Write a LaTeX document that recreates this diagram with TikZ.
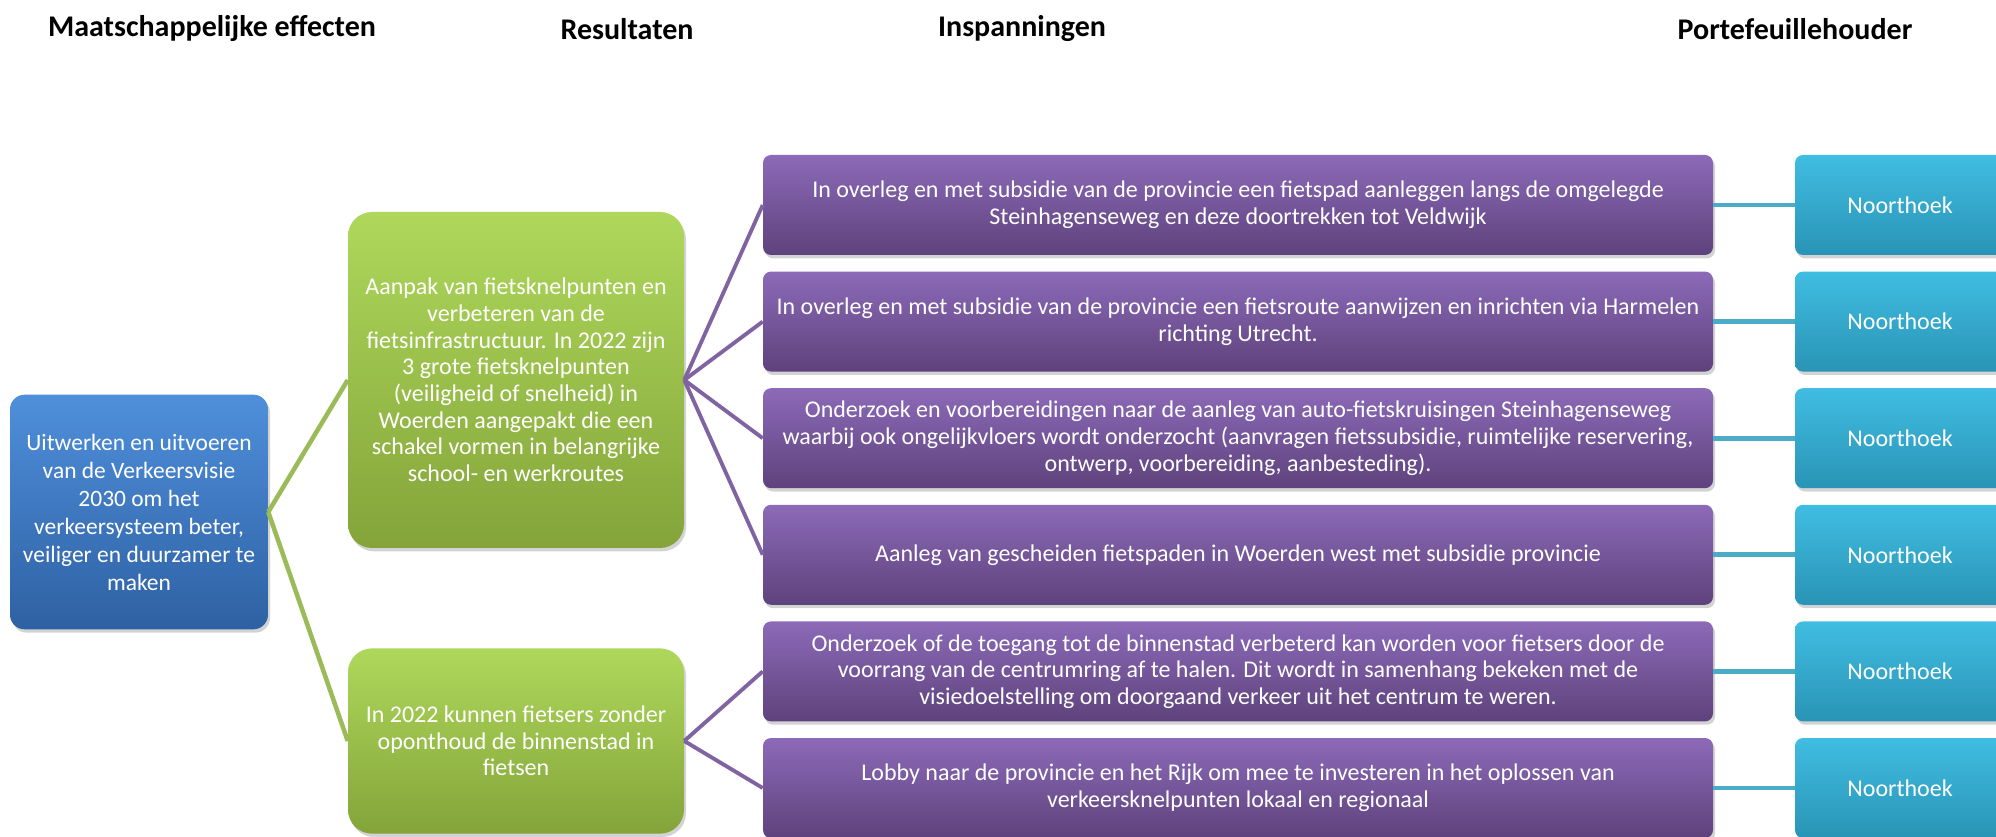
\documentclass[tikz,border=0pt]{standalone}
\usepackage{fontspec}
\setmainfont{Carlito}
\usetikzlibrary{shadows}
\definecolor{bluetop}{HTML}{4F8FDB}
\definecolor{bluebot}{HTML}{2E61A3}
\definecolor{greentop}{HTML}{AED85B}
\definecolor{greenbot}{HTML}{84A43A}
\definecolor{purtop}{HTML}{8C6AB8}
\definecolor{purbot}{HTML}{5E427C}
\definecolor{cyantop}{HTML}{40BDE2}
\definecolor{cyanbot}{HTML}{2994B5}
\definecolor{glink}{HTML}{9BBB59}
\definecolor{plink}{HTML}{8064A2}
\definecolor{clink}{HTML}{4BACC6}
\tikzset{
  basebox/.style={draw=none, text=white, align=center, inner sep=0pt,
    font=\fontsize{18}{20}\selectfont,
    drop shadow={opacity=0.35, shadow xshift=1.5pt, shadow yshift=-2.5pt}},
  bluebox/.style={basebox, rounded corners=11pt, top color=bluetop, bottom color=bluebot,
    minimum width=193.5pt, minimum height=176pt, font=\fontsize{17.6}{21}\selectfont},
  greenbox/.style={basebox, rounded corners=18pt, top color=greentop, bottom color=greenbot,
    minimum width=252pt},
  purbox/.style={basebox, rounded corners=6pt, top color=purtop, bottom color=purbot,
    minimum width=712.5pt, minimum height=75pt},
  cyanbox/.style={basebox, rounded corners=6pt, top color=cyantop, bottom color=cyanbot,
    minimum width=157.5pt, minimum height=75pt},
  header/.style={font=\fontsize{22.5}{26}\selectfont\bfseries, inner sep=0pt},
  glinkst/.style={draw=glink, line width=3.4pt},
  plinkst/.style={draw=plink, line width=2.9pt},
  clinkst/.style={draw=clink, line width=3.6pt}
}
\begin{document}
\begin{tikzpicture}[x=0.75pt,y=-0.75pt]
\useasboundingbox (0,0) rectangle (1996,837);
\clip (0,0) rectangle (1996,837);

% headers
\node[header] (h1) at (212,29) {Maatschappelijke effecten};
\node[header] (h2) at (627,29) {Resultaten};
\node[header] (h3) at (1022,29) {Inspanningen};
\node[header] (h4) at (1795,29) {Portefeuillehouder};

% boxes
\node[bluebox] (b) at (139,512) {Uitwerken en uitvoeren\\van de Verkeersvisie\\2030 om het\\verkeersysteem beter,\\veiliger en duurzamer te\\maken};

\node[greenbox, minimum height=252pt] (g1) at (516,380) {Aanpak van fietsknelpunten en\\verbeteren van de\\fietsinfrastructuur. In 2022 zijn\\3 grote fietsknelpunten\\(veiligheid of snelheid) in\\Woerden aangepakt die een\\schakel vormen in belangrijke\\school- en werkroutes};

\node[greenbox, minimum height=139pt] (g2) at (516,741) {In 2022 kunnen fietsers zonder\\oponthoud de binnenstad in\\fietsen};

\node[purbox] (p1) at (1238,205) {In overleg en met subsidie van de provincie een fietspad aanleggen langs de omgelegde\\Steinhagenseweg en deze doortrekken tot Veldwijk};
\node[purbox] (p2) at (1238,321.6) {In overleg en met subsidie van de provincie een fietsroute aanwijzen en inrichten via Harmelen\\richting Utrecht.};
\node[purbox] (p3) at (1238,438.2) {Onderzoek en voorbereidingen naar de aanleg van auto-fietskruisingen Steinhagenseweg\\waarbij ook ongelijkvloers wordt onderzocht (aanvragen fietssubsidie, ruimtelijke reservering,\\ontwerp, voorbereiding, aanbesteding).};
\node[purbox] (p4) at (1238,554.8) {Aanleg van gescheiden fietspaden in Woerden west met subsidie provincie};
\node[purbox] (p5) at (1238,671.4) {Onderzoek of de toegang tot de binnenstad verbeterd kan worden voor fietsers door de\\voorrang van de centrumring af te halen. Dit wordt in samenhang bekeken met de\\visiedoelstelling om doorgaand verkeer uit het centrum te weren.};
\node[purbox] (p6) at (1238,788) {Lobby naar de provincie en het Rijk om mee te investeren in het oplossen van\\verkeersknelpunten lokaal en regionaal};

\node[cyanbox] (c1) at (1900,205) {Noorthoek};
\node[cyanbox] (c2) at (1900,321.6) {Noorthoek};
\node[cyanbox] (c3) at (1900,438.2) {Noorthoek};
\node[cyanbox] (c4) at (1900,554.8) {Noorthoek};
\node[cyanbox] (c5) at (1900,671.4) {Noorthoek};
\node[cyanbox] (c6) at (1900,788) {Noorthoek};

% connectors
\draw[glinkst] (b.east) -- (g1.west);
\draw[glinkst] (b.east) -- (g2.west);
\foreach \i in {1,2,3,4} { \draw[plinkst] (g1.east) -- (p\i.west); }
\foreach \i in {5,6} { \draw[plinkst] (g2.east) -- (p\i.west); }
\foreach \i in {1,...,6} { \draw[clinkst] (p\i.east) -- (c\i.west); }
\end{tikzpicture}
\end{document}
